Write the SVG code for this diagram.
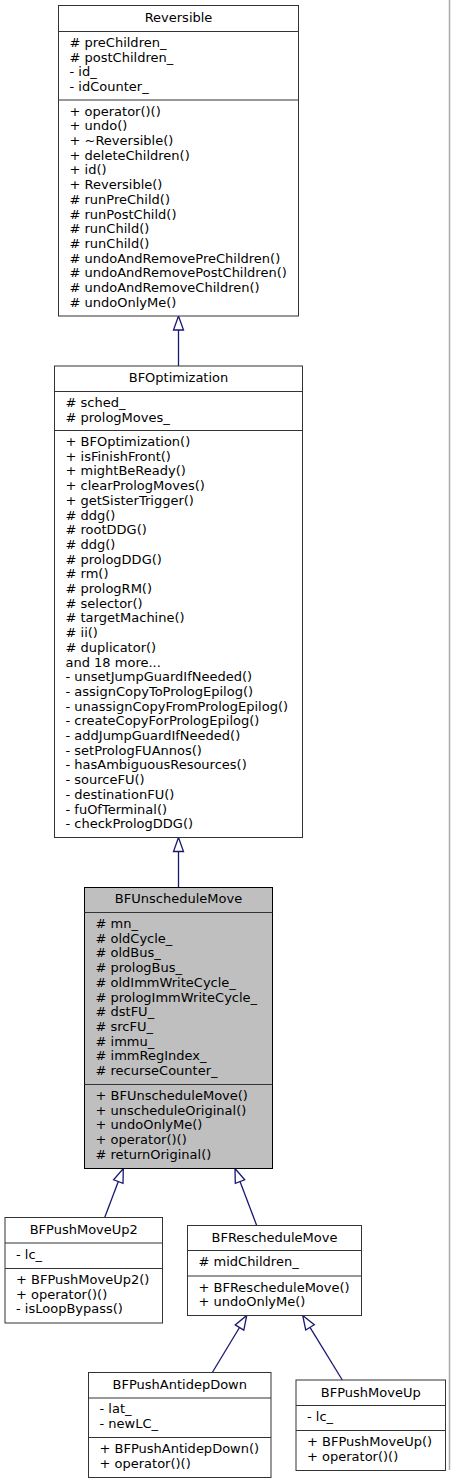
<svg xmlns="http://www.w3.org/2000/svg" width="451" height="1484" viewBox="0 0 451 1484">
<style>
.box{fill:#ffffff;stroke:#333333;stroke-width:1}
.hl{fill:#bfbfbf;stroke:#000000;stroke-width:1}
.sep{stroke:#333333;stroke-width:1}
text{font-family:"DejaVu Sans",sans-serif;font-size:13px;fill:#000000}
.t{text-anchor:middle}
.edge{stroke:#191970;stroke-width:1.3;fill:none}
.head{fill:#ffffff;stroke:#191970;stroke-width:1.3}
</style>
<rect x="0" y="0" width="451" height="1484" fill="#ffffff"/>
<line x1="449.5" y1="0" x2="449.5" y2="1470" stroke="#aaaaaa" stroke-width="1.5"/>

<g id="connectors">
<line class="edge" x1="178.5" y1="330" x2="178.5" y2="366"/>
<polygon class="head" points="178.5,316 183.5,330 173.5,330"/>
<line class="edge" x1="178.5" y1="851.5" x2="178.5" y2="887.5"/>
<polygon class="head" points="178.5,837.5 183.5,851.5 173.5,851.5"/>
<line class="edge" x1="104.7" y1="1217.5" x2="118.3" y2="1181.6"/>
<polygon class="head" points="123.3,1168.5 123.0,1183.4 113.6,1179.8"/>
<line class="edge" x1="256.7" y1="1225.5" x2="240" y2="1181.6"/>
<polygon class="head" points="235,1168.5 244.7,1179.8 235.3,1183.4"/>
<line class="edge" x1="212.3" y1="1372.5" x2="239.5" y2="1327.5"/>
<polygon class="head" points="246.7,1315.5 243.8,1330.1 235.2,1324.9"/>
<line class="edge" x1="342.3" y1="1380" x2="310" y2="1327.4"/>
<polygon class="head" points="302.7,1315.5 314.3,1324.8 305.7,1330.0"/>
</g>

<g id="Reversible">
<rect class="box" x="58.5" y="5.5" width="240" height="310.5"/>
<line class="sep" x1="58.5" y1="31.5" x2="298.5" y2="31.5"/>
<line class="sep" x1="58.5" y1="100" x2="298.5" y2="100"/>
<text class="t" x="178.5" y="21.5">Reversible</text>
<text x="69.5" y="46.8"># preChildren_</text>
<text x="69.5" y="61.5"># postChildren_</text>
<text x="69.5" y="76.2">- id_</text>
<text x="69.5" y="90.9">- idCounter_</text>
<text x="69.5" y="115.6">+ operator()()</text>
<text x="69.5" y="130.3">+ undo()</text>
<text x="69.5" y="145">+ ~Reversible()</text>
<text x="69.5" y="159.7">+ deleteChildren()</text>
<text x="69.5" y="174.4">+ id()</text>
<text x="69.5" y="189.1">+ Reversible()</text>
<text x="69.5" y="203.8"># runPreChild()</text>
<text x="69.5" y="218.5"># runPostChild()</text>
<text x="69.5" y="233.2"># runChild()</text>
<text x="69.5" y="247.9"># runChild()</text>
<text x="69.5" y="262.6"># undoAndRemovePreChildren()</text>
<text x="69.5" y="277.3"># undoAndRemovePostChildren()</text>
<text x="69.5" y="292"># undoAndRemoveChildren()</text>
<text x="69.5" y="306.7"># undoOnlyMe()</text>
</g>

<g id="BFOptimization">
<rect class="box" x="54.5" y="366" width="248" height="471.5"/>
<line class="sep" x1="54.5" y1="391.5" x2="302.5" y2="391.5"/>
<line class="sep" x1="54.5" y1="430.5" x2="302.5" y2="430.5"/>
<text class="t" x="178.5" y="381.5">BFOptimization</text>
<text x="65.5" y="406.8"># sched_</text>
<text x="65.5" y="421.5"># prologMoves_</text>
<text x="65.5" y="446">+ BFOptimization()</text>
<text x="65.5" y="460.7">+ isFinishFront()</text>
<text x="65.5" y="475.4">+ mightBeReady()</text>
<text x="65.5" y="490.1">+ clearPrologMoves()</text>
<text x="65.5" y="504.8">+ getSisterTrigger()</text>
<text x="65.5" y="519.5"># ddg()</text>
<text x="65.5" y="534.2"># rootDDG()</text>
<text x="65.5" y="548.9"># ddg()</text>
<text x="65.5" y="563.6"># prologDDG()</text>
<text x="65.5" y="578.3"># rm()</text>
<text x="65.5" y="593"># prologRM()</text>
<text x="65.5" y="607.7"># selector()</text>
<text x="65.5" y="622.4"># targetMachine()</text>
<text x="65.5" y="637.1"># ii()</text>
<text x="65.5" y="651.8"># duplicator()</text>
<text x="65.5" y="666.5">and 18 more...</text>
<text x="65.5" y="681.2">- unsetJumpGuardIfNeeded()</text>
<text x="65.5" y="695.9">- assignCopyToPrologEpilog()</text>
<text x="65.5" y="710.6">- unassignCopyFromPrologEpilog()</text>
<text x="65.5" y="725.3">- createCopyForPrologEpilog()</text>
<text x="65.5" y="740">- addJumpGuardIfNeeded()</text>
<text x="65.5" y="754.7">- setPrologFUAnnos()</text>
<text x="65.5" y="769.4">- hasAmbiguousResources()</text>
<text x="65.5" y="784.1">- sourceFU()</text>
<text x="65.5" y="798.8">- destinationFU()</text>
<text x="65.5" y="813.5">- fuOfTerminal()</text>
<text x="65.5" y="828.2">- checkPrologDDG()</text>
</g>

<g id="BFUnscheduleMove">
<rect class="hl" x="84.5" y="887.5" width="188" height="281"/>
<line class="sep" x1="84.5" y1="912.5" x2="272.5" y2="912.5" stroke="#000"/>
<line class="sep" x1="84.5" y1="1084.5" x2="272.5" y2="1084.5" stroke="#000"/>
<text class="t" x="178.5" y="903">BFUnscheduleMove</text>
<text x="95.5" y="928"># mn_</text>
<text x="95.5" y="942.7"># oldCycle_</text>
<text x="95.5" y="957.4"># oldBus_</text>
<text x="95.5" y="972.1"># prologBus_</text>
<text x="95.5" y="986.8"># oldImmWriteCycle_</text>
<text x="95.5" y="1001.5"># prologImmWriteCycle_</text>
<text x="95.5" y="1016.2"># dstFU_</text>
<text x="95.5" y="1030.9"># srcFU_</text>
<text x="95.5" y="1045.6"># immu_</text>
<text x="95.5" y="1060.3"># immRegIndex_</text>
<text x="95.5" y="1075"># recurseCounter_</text>
<text x="95.5" y="1100">+ BFUnscheduleMove()</text>
<text x="95.5" y="1114.7">+ unscheduleOriginal()</text>
<text x="95.5" y="1129.4">+ undoOnlyMe()</text>
<text x="95.5" y="1144.1">+ operator()()</text>
<text x="95.5" y="1158.8"># returnOriginal()</text>
</g>

<g id="BFPushMoveUp2">
<rect class="box" x="5" y="1217.5" width="157.5" height="105.5"/>
<line class="sep" x1="5" y1="1243" x2="162.5" y2="1243"/>
<line class="sep" x1="5" y1="1268.5" x2="162.5" y2="1268.5"/>
<text class="t" x="83.75" y="1234">BFPushMoveUp2</text>
<text x="16" y="1258.5">- lc_</text>
<text x="16" y="1284">+ BFPushMoveUp2()</text>
<text x="16" y="1298.7">+ operator()()</text>
<text x="16" y="1313.4">- isLoopBypass()</text>
</g>

<g id="BFRescheduleMove">
<rect class="box" x="187.5" y="1225.5" width="174" height="90"/>
<line class="sep" x1="187.5" y1="1250.5" x2="361.5" y2="1250.5"/>
<line class="sep" x1="187.5" y1="1276" x2="361.5" y2="1276"/>
<text class="t" x="274.5" y="1241.5">BFRescheduleMove</text>
<text x="198.5" y="1266"># midChildren_</text>
<text x="198.5" y="1291.5">+ BFRescheduleMove()</text>
<text x="198.5" y="1306.2">+ undoOnlyMe()</text>
</g>

<g id="BFPushAntidepDown">
<rect class="box" x="88.5" y="1372.5" width="182.5" height="105"/>
<line class="sep" x1="88.5" y1="1398" x2="271" y2="1398"/>
<line class="sep" x1="88.5" y1="1437.5" x2="271" y2="1437.5"/>
<text class="t" x="179.75" y="1389">BFPushAntidepDown</text>
<text x="99.5" y="1413.3">- lat_</text>
<text x="99.5" y="1428">- newLC_</text>
<text x="99.5" y="1453">+ BFPushAntidepDown()</text>
<text x="99.5" y="1467.7">+ operator()()</text>
</g>

<g id="BFPushMoveUp">
<rect class="box" x="296" y="1380" width="149.5" height="90.5"/>
<line class="sep" x1="296" y1="1405.5" x2="445.5" y2="1405.5"/>
<line class="sep" x1="296" y1="1430.5" x2="445.5" y2="1430.5"/>
<text class="t" x="370.75" y="1396.5">BFPushMoveUp</text>
<text x="307" y="1421">- lc_</text>
<text x="307" y="1446">+ BFPushMoveUp()</text>
<text x="307" y="1460.7">+ operator()()</text>
</g>
</svg>
